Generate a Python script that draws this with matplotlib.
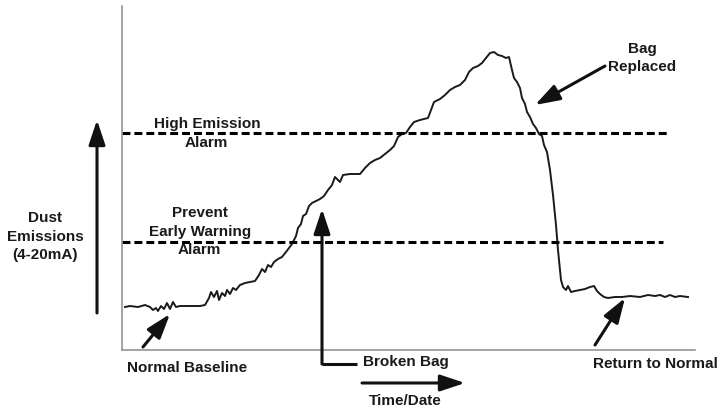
import matplotlib
matplotlib.use('Agg')
import matplotlib.pyplot as plt

plt.rcParams['font.family'] = ['Liberation Sans', 'DejaVu Sans']

# dust signal trace (time, signal)
time = [3, 8, 16, 23, 28, 31, 34, 36, 39, 42, 45, 48, 51, 54, 58, 68, 78, 83, 87, 89,
        92, 95, 97, 100, 103, 105, 108, 111, 114, 118, 123, 128, 133, 137, 140, 143, 146, 149, 152, 156,
        160, 164, 167, 170, 172, 174, 176, 179, 181, 184, 187, 190, 194, 198, 202, 206, 210, 213, 216, 218,
        221, 228, 238, 243, 248, 253, 258, 263, 268, 272, 276, 280, 284, 288, 292, 298, 306, 309, 312, 318,
        323, 328, 333, 338, 343, 347, 351, 356, 360, 364, 368, 372, 376, 380, 384, 387, 390, 392, 395, 398,
        400, 403, 405, 408, 411, 414, 417, 420, 422, 425, 428, 431, 434, 436, 439, 441, 444, 446, 449, 453,
        458, 463, 468, 472, 475, 478, 482, 486, 493, 500, 508, 518, 526, 533, 538, 543, 548, 553, 558, 566]
signal = [43, 44, 43, 45, 43, 40, 42, 39, 44, 41, 47, 41, 48, 43, 44, 44, 44, 45, 52, 58,
          53, 59, 50, 57, 54, 60, 56, 62, 60, 65, 67, 68, 69, 75, 81, 78, 85, 83, 88, 91,
          93, 98, 102, 106, 110, 114, 122, 126, 134, 136, 144, 147, 149, 151, 154, 160, 165, 173, 170, 168,
          175, 176, 176, 182, 187, 190, 192, 196, 200, 204, 213, 216, 217, 223, 228, 230, 232, 240, 248, 251,
          255, 260, 263, 265, 270, 278, 282, 284, 287, 292, 297, 298, 295, 294, 292, 293, 280, 272, 268, 262,
          252, 246, 238, 233, 226, 222, 216, 214, 205, 198, 180, 155, 125, 100, 70, 63, 60, 64, 58, 59,
          60, 61, 63, 64, 59, 56, 53, 52, 53, 53, 54, 53, 55, 54, 55, 53, 55, 53, 54, 53]

high_alarm = 217
early_alarm = 108

fig = plt.figure(figsize=(7.2, 4.08), dpi=100)
ax = fig.add_axes([122 / 720, 58 / 408, 573 / 720, 344 / 408])
ax.set_xlim(0, 573)
ax.set_ylim(0, 344)

ax.plot(time, signal, color='#1a1a1a', lw=1.4)

dash = (0, (2.6, 1.3))
ax.hlines(high_alarm, 0, 546, colors='k', lw=2.2, linestyles=[dash])
ax.hlines(early_alarm, 0, 541, colors='k', lw=2.2, linestyles=[dash])

for s in ['top', 'right']:
    ax.spines[s].set_visible(False)
for s in ['left', 'bottom']:
    ax.spines[s].set_color('#8c8c8c')
    ax.spines[s].set_linewidth(1.1)
ax.set_xticks([])
ax.set_yticks([])

tkw = dict(fontsize=11, fontweight='bold', color='#1a1a1a', ha='center', va='center', clip_on=False)
akw = dict(arrowstyle='-|>,head_length=0.75,head_width=0.25', lw=2.2, color='#111111',
           mutation_scale=20, shrinkA=0, shrinkB=0)

ax.text(85, 226, 'High Emission', **tkw)
ax.text(84, 207, 'Alarm', **tkw)
ax.text(78, 137, 'Prevent', **tkw)
ax.text(78, 118, 'Early Warning', **tkw)
ax.text(77, 100, 'Alarm', **tkw)

# y-axis label with big arrow
ax.text(-77, 132, 'Dust', **tkw)
ax.text(-77, 113, 'Emissions', **tkw)
ax.text(-77, 95, '(4-20mA)', **tkw)
ax.annotate('', xy=(-25, 230), xytext=(-25, 37), arrowprops=akw, annotation_clip=False)

# time arrow
ax.annotate('', xy=(343, -33), xytext=(240, -33), arrowprops=akw, annotation_clip=False)
ax.text(283, -51, 'Time/Date', **tkw)

# normal baseline
ax.text(5, -18, 'Normal Baseline', **{**tkw, 'ha': 'left'})
ax.annotate('', xy=(48, 36), xytext=(21, 3), arrowprops=akw, annotation_clip=False)

# broken bag
ax.plot([235, 200], [-14, -14], color='#111111', lw=2.2, clip_on=False, solid_capstyle='butt')
ax.annotate('', xy=(200, 141), xytext=(200, -14), arrowprops=akw, annotation_clip=False)
ax.text(241, -12, 'Broken Bag', **{**tkw, 'ha': 'left'})

# bag replaced
ax.text(520, 301, 'Bag', **tkw)
ax.text(520, 283, 'Replaced', **tkw)
ax.annotate('', xy=(413, 245), xytext=(483, 284), arrowprops=akw, annotation_clip=False)

# return to normal
ax.text(471, -14, 'Return to Normal', **{**tkw, 'ha': 'left'})
ax.annotate('', xy=(503, 52), xytext=(473, 5), arrowprops=akw, annotation_clip=False)

fig.savefig('out.png', dpi=100)
